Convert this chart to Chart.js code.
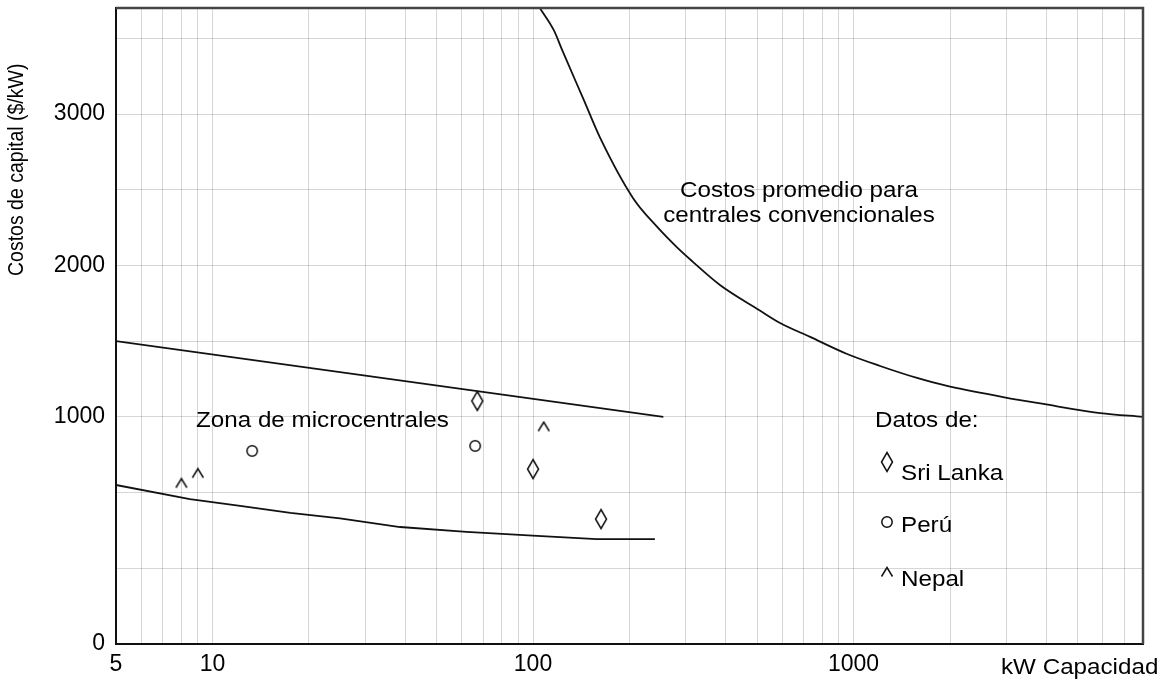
<!DOCTYPE html>
<html>
<head>
<meta charset="utf-8">
<script src="https://cdn.jsdelivr.net/npm/chart.js@4.4.1/dist/chart.umd.min.js"></script>
<style>
  html, body { margin: 0; padding: 0; background: #ffffff; }
  canvas { display: block; }
</style>
</head>
<body>
<canvas id="c" width="1168" height="680"></canvas>
<script>
// ---------------- DATA ----------------
const xTickLabels = [5, 10, 100, 1000];
const yTickLabels = [0, 1000, 2000, 3000];
const xMin = 5, xMax = 8000;
const yMaxValue = 3700;

// Upper limit of micro-hydro zone
const upperX = [5, 255];
const upperY = [1500, 1000];
// Lower limit of micro-hydro zone
const lowerX = [5, 8.5, 12.2, 17.5, 25, 38.5, 62, 103, 158, 240];
const lowerY = [700, 638, 608, 577, 553, 515, 494, 476, 462, 462];
// Average cost for conventional plants
const convX = [105, 116, 124, 144, 162, 205, 244, 283, 314, 383, 507, 590, 732, 955, 1210, 1578, 1958, 2928, 3912, 5880, 8000];
const convY = [3700, 3555, 3410, 3093, 2842, 2446, 2254, 2114, 2027, 1871, 1706, 1620, 1528, 1415, 1336, 1257, 1204, 1131, 1085, 1025, 1000];

// Data points
const sriLankaX = [67, 100, 163];
const sriLankaY = [1105, 770, 550];
const peruX = [13.3, 66];
const peruY = [850, 872];
const nepalX = [8, 9, 108];
const nepalY = [708, 752, 957];

// The original y axis is drawn with uneven steps: 0–1000 over three grid
// divisions, then 500 per division above 1000.
function toAxis(v) { return v <= 1000 ? v / (1000 / 3) : 3 + (v - 1000) / 500; }

function pts(xs, ys) { return xs.map((x, i) => ({ x: x, y: toAxis(ys[i]) })); }

// log grid: 1..9 x each decade between min and max
function logGrid(min, max) {
  const out = [];
  for (let e = Math.floor(Math.log10(min)); Math.pow(10, e) <= max; e++) {
    for (let m = 1; m <= 9; m++) {
      const v = m * Math.pow(10, e);
      if (v >= min - 1e-9 && v <= max + 1e-9) out.push(v);
    }
  }
  return out;
}

// ---------------- MARKERS ----------------
const INK = '#111111';
function makeCanvas(w, h, draw) {
  const c = document.createElement('canvas');
  c.width = w; c.height = h;
  const g = c.getContext('2d');
  g.strokeStyle = INK; g.lineWidth = 1.5; g.lineJoin = 'miter';
  draw(g);
  return c;
}
const diamondImg = makeCanvas(14, 22, g => {
  g.beginPath(); g.moveTo(7, 1.5); g.lineTo(12.5, 11); g.lineTo(7, 20.5); g.lineTo(1.5, 11); g.closePath(); g.stroke();
});
const circleImg = makeCanvas(14, 14, g => {
  g.beginPath(); g.arc(7, 7, 5.2, 0, Math.PI * 2); g.stroke();
});
const caretImg = makeCanvas(14, 12, g => {
  g.beginPath(); g.moveTo(1.5, 10.5); g.lineTo(7, 1.5); g.lineTo(12.5, 10.5); g.stroke();
});

// ---------------- PLUGINS ----------------
const FONT = '"Liberation Sans", Arial, sans-serif';
function sText(ctx, txt, x, y, align, size) {
  ctx.save();
  ctx.translate(x, y);
  ctx.scale(1.1, 1);
  ctx.font = size + 'px ' + FONT;
  ctx.textAlign = align;
  ctx.textBaseline = 'alphabetic';
  ctx.fillStyle = '#000';
  ctx.fillText(txt, 0, 0);
  ctx.restore();
}

const bgPlugin = {
  id: 'bg',
  beforeDraw(chart) {
    const ctx = chart.ctx;
    ctx.save(); ctx.fillStyle = '#ffffff'; ctx.fillRect(0, 0, chart.width, chart.height); ctx.restore();
  }
};

const annPlugin = {
  id: 'ann',
  afterDraw(chart) {
    const ctx = chart.ctx;
    const a = chart.chartArea;
    ctx.save();
    ctx.strokeStyle = '#444'; ctx.lineWidth = 2.5;
    ctx.beginPath(); ctx.moveTo(a.left, a.top); ctx.lineTo(a.right, a.top); ctx.lineTo(a.right, a.bottom); ctx.stroke();
    ctx.restore();

    sText(ctx, 'Zona de microcentrales', 196, 427, 'left', 22);
    sText(ctx, 'Costos promedio para', 799, 197, 'center', 22);
    sText(ctx, 'centrales convencionales', 799, 222, 'center', 22);
    sText(ctx, 'Datos de:', 875, 427, 'left', 22);
    sText(ctx, 'Sri Lanka', 901, 480, 'left', 22);
    sText(ctx, 'Perú', 901, 532, 'left', 22);
    sText(ctx, 'Nepal', 901, 586, 'left', 22);
    sText(ctx, 'kW Capacidad', 1001, 674, 'left', 22);

    ctx.drawImage(diamondImg, 887 - 7, 462 - 11);
    ctx.drawImage(circleImg, 887 - 7, 522 - 7);
    ctx.drawImage(caretImg, 887 - 7, 572 - 6);

    ctx.save();
    ctx.translate(23, 276);
    ctx.rotate(-Math.PI / 2);
    ctx.scale(1, 1.12);
    ctx.font = '19.5px ' + FONT;
    ctx.fillStyle = '#000';
    ctx.textAlign = 'left';
    ctx.textBaseline = 'alphabetic';
    ctx.fillText('Costos de capital ($/kW)', 0, 0);
    ctx.restore();
  }
};

// ---------------- CHART ----------------
const lineDs = (data, extra) => Object.assign({
  data: data, showLine: true, borderColor: INK, borderWidth: 1.8,
  pointRadius: 0, pointHoverRadius: 0, fill: false
}, extra || {});

const pointDs = (data, style) => ({
  data: data, showLine: false, pointStyle: style, pointRadius: 7,
  borderColor: INK, backgroundColor: 'transparent'
});

new Chart(document.getElementById('c'), {
  type: 'scatter',
  data: {
    datasets: [
      lineDs(pts(upperX, upperY)),
      lineDs(pts(lowerX, lowerY)),
      lineDs(pts(convX, convY), { cubicInterpolationMode: 'monotone' }),
      pointDs(pts(sriLankaX, sriLankaY), diamondImg),
      pointDs(pts(peruX, peruY), circleImg),
      pointDs(pts(nepalX, nepalY), caretImg)
    ]
  },
  options: {
    responsive: false,
    animation: false,
    devicePixelRatio: 1,
    layout: { padding: { top: 8, right: 25, left: 0, bottom: 0 } },
    plugins: { legend: { display: false }, tooltip: { enabled: false } },
    scales: {
      x: {
        type: 'logarithmic',
        min: xMin, max: xMax,
        afterBuildTicks(s) { s.ticks = logGrid(xMin, xMax).map(v => ({ value: v })); },
        afterFit(s) { s.height = 36; s.paddingLeft = 0; s.paddingRight = 0; },
        grid: { color: 'rgba(0,0,0,0.16)', lineWidth: 1, drawTicks: false },
        border: { color: '#111', width: 2 },
        ticks: {
          autoSkip: false, maxRotation: 0, padding: 7,
          color: '#000', font: { family: FONT, size: 23 },
          callback(v) { return xTickLabels.some(t => Math.abs(t - v) < 1e-9) ? String(v) : ''; }
        }
      },
      y: {
        type: 'linear',
        min: 0, max: toAxis(yMaxValue),
        afterBuildTicks(s) { s.ticks = s.ticks.filter(t => Math.abs(t.value - Math.round(t.value)) < 1e-9); },
        afterFit(s) { s.width = 116; s.paddingTop = 0; s.paddingBottom = 0; },
        grid: { color: 'rgba(0,0,0,0.16)', lineWidth: 1, drawTicks: false },
        border: { color: '#111', width: 2 },
        ticks: {
          stepSize: 1, autoSkip: false, padding: 11,
          color: '#000', font: { family: FONT, size: 23 },
          callback(v) {
            const l = yTickLabels.find(t => Math.abs(toAxis(t) - v) < 1e-9);
            return l === undefined ? '' : String(l);
          }
        }
      }
    }
  },
  plugins: [bgPlugin, annPlugin]
});
</script>
</body>
</html>
